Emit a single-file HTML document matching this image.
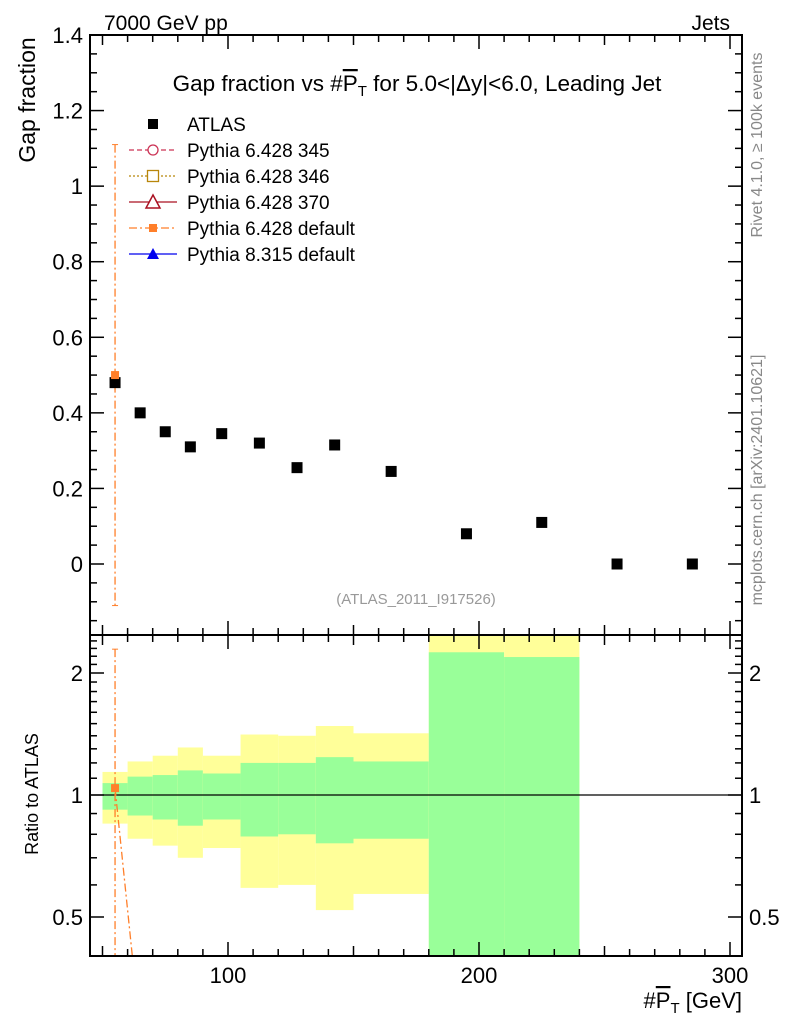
<!DOCTYPE html>
<html><head><meta charset="utf-8"><style>
html,body{margin:0;padding:0;background:#fff;overflow:hidden;width:786px;height:1024px}
svg{display:block;font-family:"Liberation Sans",Arial,sans-serif}
</style></head><body>
<svg id="c" width="786" height="1024" xmlns="http://www.w3.org/2000/svg">
<text x="104" y="30" font-size="21">7000 GeV pp</text>
<text x="730" y="30" font-size="21" text-anchor="end">Jets</text>
<text x="417" y="91" font-size="22.5" text-anchor="middle">Gap fraction vs #<tspan text-decoration="overline">P</tspan><tspan font-size="15" dy="5">T</tspan><tspan dy="-5"> for 5.0&lt;|Δy|&lt;6.0, Leading Jet</tspan></text>
<text transform="translate(35,100) rotate(-90)" font-size="23" text-anchor="middle">Gap fraction</text>
<text transform="translate(38,794) rotate(-90)" font-size="18" text-anchor="middle">Ratio to ATLAS</text>
<text x="742" y="1008" font-size="22" text-anchor="end">#<tspan text-decoration="overline">P</tspan><tspan font-size="15" dy="5">T</tspan><tspan dy="-5"> [GeV]</tspan></text>
<text transform="translate(762,145) rotate(-90)" font-size="16" fill="#888" text-anchor="middle">Rivet 4.1.0, ≥ 100k events</text>
<text transform="translate(762,480) rotate(-90)" font-size="16" fill="#888" text-anchor="middle">mcplots.cern.ch [arXiv:2401.10621]</text>
<text x="416" y="604" font-size="15" fill="#999" text-anchor="middle">(ATLAS_2011_I917526)</text>
<g id="legend"></g>
<g id="plot"></g>
</svg>
<script>
const xCenters=[55,65,75,85,97.5,112.5,127.5,142.5,165,195,225,255,285];
const atlasValues=[0.48,0.40,0.35,0.31,0.345,0.32,0.255,0.315,0.245,0.08,0.11,0,0];
const binEdges=[50,60,70,80,90,105,120,135,150,180,210,240];
const yellowUp=[1.14,1.21,1.25,1.31,1.25,1.41,1.40,1.48,1.42,3,3];
const greenUp=[1.07,1.11,1.12,1.15,1.13,1.20,1.20,1.24,1.21,2.25,2.19];
const greenDown=[0.92,0.89,0.87,0.84,0.87,0.79,0.80,0.76,0.78,0.01,0.01];
const yellowDown=[0.85,0.78,0.75,0.70,0.74,0.59,0.60,0.52,0.57,0.01,0.01];
const defX=[55,65];
const defValues=[0.50];
const defErrLo=[-0.11];
const defErrHi=[1.11];
const defRatio=[1.04,0.26];
const defRatioErrHi=[2.29];
const mainTicks=[-0.2,0,0.2,0.4,0.6,0.8,1,1.2,1.4];
const mainTickLabels=["","0","0.2","0.4","0.6","0.8","1","1.2","1.4"];
const ratioTicks=[0.5,1,2];
const ratioTickLabels=["0.5","1","2"];
const xTicks=[100,200,300];
const xTickLabels=["100","200","300"];

const NS="http://www.w3.org/2000/svg";
const L=90,R=742,MT=35,MB=635,RT=635,RB=956;
const X=v=>228+(v-100)*2.51;
const Y=v=>564-v*(529/1.4);
const RY=v=>795-Math.log2(v)*122;
const g=document.getElementById('plot');
function mk(tag,at,parent){const e=document.createElementNS(NS,tag);for(const k in at)e.setAttribute(k,at[k]);(parent||g).appendChild(e);return e;}

const defs=mk('defs',{});
const cp=mk('clipPath',{id:'rc'},defs);mk('rect',{x:L,y:RT,width:R-L,height:RB-RT},cp);
const cp2=mk('clipPath',{id:'mc'},defs);mk('rect',{x:L,y:MT,width:R-L,height:MB-MT},cp2);
const rg=mk('g',{'clip-path':'url(#rc)'});


for(let i=0;i<binEdges.length-1;i++){
  const x1=X(binEdges[i]),x2=X(binEdges[i+1]);
  const y=mk('rect',{x:x1,y:RY(yellowUp[i]),width:x2-x1,height:RY(yellowDown[i])-RY(yellowUp[i]),fill:'#ffff99'},rg);
  
  
  const gr=mk('rect',{x:x1,y:RY(greenUp[i]),width:x2-x1,height:RY(greenDown[i])-RY(greenUp[i]),fill:'#99ff99'},rg);
  
  
}
const one=mk('line',{x1:L,x2:R,y1:RY(1),y2:RY(1),stroke:'#000','stroke-width':1.3},rg);


const dl=mk('line',{x1:X(defX[0]),y1:RY(defRatio[0]),x2:X(defX[1]),y2:RY(defRatio[1]),stroke:'#ff7f2a','stroke-width':1.3,'stroke-dasharray':'8,3,2,3'},rg);


const de=mk('line',{x1:X(defX[0]),y1:RY(defRatioErrHi[0]),x2:X(defX[0]),y2:RB,stroke:'#ff7f2a','stroke-width':1.3,'stroke-dasharray':'8,3,2,3'},rg);


mk('line',{x1:X(defX[0])-3,x2:X(defX[0])+3,y1:RY(defRatioErrHi[0]),y2:RY(defRatioErrHi[0]),stroke:'#ff7f2a'},rg);
const dp=mk('rect',{x:X(defX[0])-4,y:RY(defRatio[0])-4,width:8,height:8,fill:'#ff7f2a'},rg);



const mg=mk('g',{'clip-path':'url(#mc)'});


const me=mk('line',{x1:X(defX[0]),x2:X(defX[0]),y1:Y(defErrHi[0]),y2:Y(defErrLo[0]),stroke:'#ff7f2a','stroke-width':1.3,'stroke-dasharray':'8,3,2,3'},mg);


mk('line',{x1:X(defX[0])-3,x2:X(defX[0])+3,y1:Y(defErrHi[0]),y2:Y(defErrHi[0]),stroke:'#ff7f2a'},mg);
mk('line',{x1:X(defX[0])-3,x2:X(defX[0])+3,y1:Y(defErrLo[0]),y2:Y(defErrLo[0]),stroke:'#ff7f2a'},mg);
for(let i=0;i<xCenters.length;i++){
  const p=mk('rect',{x:X(xCenters[i])-5.5,y:Y(atlasValues[i])-5.5,width:11,height:11,fill:'#000'},mg);
  
  
}
const mp=mk('rect',{x:X(defX[0])-4,y:Y(defValues[0])-4,width:8,height:8,fill:'#ff7f2a'},mg);



const f1=mk('rect',{x:L,y:MT,width:R-L,height:MB-MT,fill:'none',stroke:'#000','stroke-width':2});


const f2=mk('rect',{x:L,y:RT,width:R-L,height:RB-RT,fill:'none',stroke:'#000','stroke-width':2});



const tk={stroke:'#000','stroke-width':1.5};
for(let v=50;v<=300;v+=10){
  const len=(v%50===0)?(v%100===0?14:10):7;
  [MT,MB,RB].forEach(b=>{
    if(b!==MT) mk('line',Object.assign({x1:X(v),x2:X(v),y1:b,y2:b-len},tk));
    if(b!==RB) mk('line',Object.assign({x1:X(v),x2:X(v),y1:b,y2:b+len},tk));
  });
}
xTicks.forEach((v,i)=>{const t=mk('text',{x:X(v),y:983,'font-size':22,'text-anchor':'middle'});t.textContent=xTickLabels[i];

});
for(let k=-3;k<=28;k++){const v=k*0.05;const y=Y(v);if(y<MT-1||y>MB)continue;const len=(k%4===0)?14:7;
  mk('line',Object.assign({x1:L,x2:L+len,y1:y,y2:y},tk));mk('line',Object.assign({x1:R,x2:R-len,y1:y,y2:y},tk));}
mainTicks.forEach((v,i)=>{if(!mainTickLabels[i])return;const t=mk('text',{x:L-7,y:Y(v)+8,'font-size':22,'text-anchor':'end'});t.textContent=mainTickLabels[i];

});
for(let k=4;k<=24;k++){const v=k/10;const y=RY(v);if(y<RT||y>RB)continue;const major=(k===5||k===10||k===20);const len=major?14:7;
  mk('line',Object.assign({x1:L,x2:L+len,y1:y,y2:y},tk));mk('line',Object.assign({x1:R,x2:R-len,y1:y,y2:y},tk));}
ratioTicks.forEach((v,i)=>{const t=mk('text',{x:L-7,y:RY(v)+8,'font-size':22,'text-anchor':'end'});t.textContent=ratioTickLabels[i];


const t2=mk('text',{x:R+7,y:RY(v)+8,'font-size':22});t2.textContent=ratioTickLabels[i];

});

const lg=document.getElementById('legend');
const entries=[["ATLAS","#000","none","sq"],["Pythia 6.428 345","#cc3355","5,3","circ"],["Pythia 6.428 346","#b8860b","2,2","osq"],["Pythia 6.428 370","#aa1122","none","tri"],["Pythia 6.428 default","#ff7f2a","8,3,2,3","fsq"],["Pythia 8.315 default","#0000ee","none","ftri"]];
entries.forEach((e,i)=>{
  const y=124+i*26;
  const eg=mk('g',{},lg);
  
  
  if(e[3]!=="sq") mk('line',{x1:129,x2:177,y1:y,y2:y,stroke:e[1],'stroke-width':1.3,'stroke-dasharray':e[2]},eg);
  const cx=153;
  if(e[3]==="sq") mk('rect',{x:cx-5,y:y-5,width:10,height:10,fill:'#000'},eg);
  if(e[3]==="circ") mk('circle',{cx:cx,cy:y,r:5,fill:'#fff',stroke:e[1],'stroke-width':1.3},eg);
  if(e[3]==="osq") mk('rect',{x:cx-5.5,y:y-5.5,width:11,height:11,fill:'#fff',stroke:e[1],'stroke-width':1.3},eg);
  if(e[3]==="tri") mk('polygon',{points:`${cx-7},${y+6} ${cx+7},${y+6} ${cx},${y-7}`,fill:'#fff',stroke:e[1],'stroke-width':1.5},eg);
  if(e[3]==="fsq") mk('rect',{x:cx-4,y:y-4,width:8,height:8,fill:e[1]},eg);
  if(e[3]==="ftri") mk('polygon',{points:`${cx-6},${y+5} ${cx+6},${y+5} ${cx},${y-6}`,fill:e[1]},eg);
  const t=mk('text',{x:187,y:y+7,'font-size':19},eg);t.textContent=e[0];
});
</script>
</body></html>
